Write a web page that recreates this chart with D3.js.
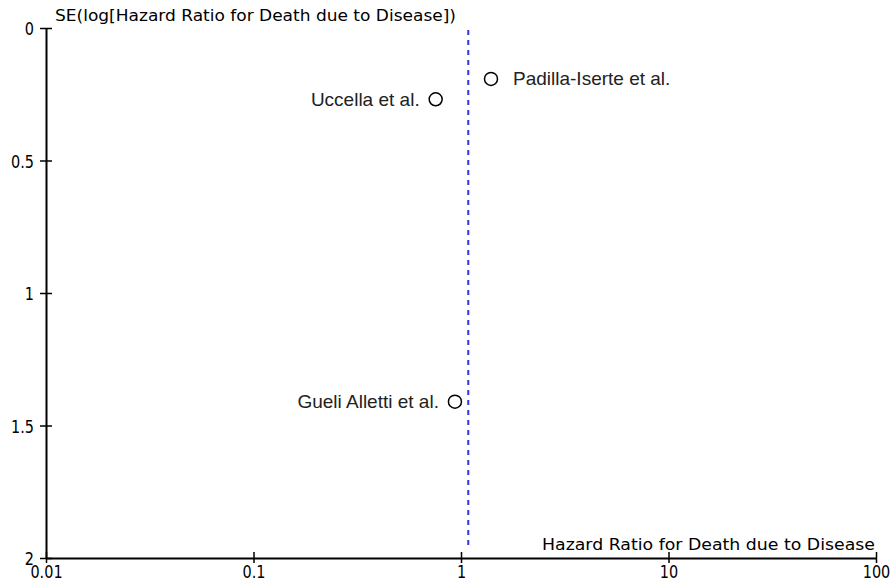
<!DOCTYPE html>
<html>
<head>
<meta charset="utf-8">
<script src="https://cdn.jsdelivr.net/npm/d3@7"></script>
<style>
  html, body { margin: 0; padding: 0; background: #fff; }
  svg { display: block; }
</style>
</head>
<body>
<svg id="chart" width="893" height="587"></svg>
<script>
// Funnel plot: hazard ratio for death due to disease vs. its standard error
const studies = ["Padilla-Iserte et al.", "Uccella et al.", "Gueli Alletti et al."];
const hazardRatios = [1.395, 0.755, 0.935];
const standardErrors = [0.192, 0.269, 1.41];
const labelSides = ["right", "left", "left"];
const pooledHR = 1.084;

const xTicks = [0.01, 0.1, 1, 10, 100];
const xTickLabels = ["0.01", "0.1", "1", "10", "100"];
const yTicks = [0, 0.5, 1, 1.5, 2];
const yTickLabels = ["0", "0.5", "1", "1.5", "2"];

const xTitle = "Hazard Ratio for Death due to Disease";
const yTitle = "SE(log[Hazard Ratio for Death due to Disease])";

const svg = d3.select("#chart");
const axisFont = "'DejaVu Sans', sans-serif";

const x = d3.scaleLog().domain([0.01, 100]).range([46, 876]);
const y = d3.scaleLinear().domain([0, 2]).range([28, 558]);

// pooled estimate line
svg.append("line")
  .attr("x1", x(pooledHR)).attr("x2", x(pooledHR))
  .attr("y1", y(0) + 2).attr("y2", y(2) - 8)
  .attr("stroke", "#3434d8")
  .attr("stroke-width", 2)
  .attr("stroke-dasharray", "5,5");

// x axis
const xAxis = svg.append("g").attr("transform", `translate(0,${y(2)})`)
  .call(d3.axisBottom(x).tickValues(xTicks).tickFormat((d, i) => xTickLabels[i]).tickSizeOuter(0));
xAxis.select(".domain").attr("stroke", "#000").attr("stroke-width", 2);
xAxis.selectAll(".tick line").attr("y1", -6).attr("y2", 5).attr("stroke", "#000").attr("stroke-width", 1.5);
xAxis.selectAll(".tick text").remove();
xAxis.selectAll(".tick").append("text")
  .attr("transform", "translate(0,20) scale(0.85,1)")
  .attr("text-anchor", "middle")
  .attr("font-family", axisFont).attr("font-size", 17)
  .attr("fill", "#000")
  .text((d, i) => xTickLabels[i]);

// y axis
const yAxis = svg.append("g").attr("transform", `translate(${x(0.01)},0)`)
  .call(d3.axisLeft(y).tickValues(yTicks).tickFormat((d, i) => yTickLabels[i]).tickSizeOuter(0));
yAxis.select(".domain").attr("stroke", "#000").attr("stroke-width", 2);
yAxis.selectAll(".tick line").attr("x1", -6).attr("x2", 6).attr("stroke", "#000").attr("stroke-width", 1.5);
yAxis.selectAll(".tick text").remove();
yAxis.selectAll(".tick").append("text")
  .attr("transform", "translate(-12,6.5) scale(0.85,1)")
  .attr("text-anchor", "end")
  .attr("font-family", axisFont).attr("font-size", 17)
  .attr("fill", "#000")
  .text((d, i) => yTickLabels[i]);

// axis titles
svg.append("text")
  .attr("x", 55).attr("y", 21)
  .attr("font-family", axisFont).attr("font-size", 15)
  .attr("textLength", 401).attr("lengthAdjust", "spacingAndGlyphs")
  .attr("fill", "#000")
  .text(yTitle);

svg.append("text")
  .attr("x", 542).attr("y", 550)
  .attr("font-family", axisFont).attr("font-size", 15.5)
  .attr("textLength", 333).attr("lengthAdjust", "spacingAndGlyphs")
  .attr("fill", "#000")
  .text(xTitle);

// study points
const pts = studies.map((s, i) => ({ name: s, hr: hazardRatios[i], se: standardErrors[i], side: labelSides[i] }));

svg.selectAll("circle.study").data(pts).join("circle")
  .attr("class", "study")
  .attr("cx", d => x(d.hr)).attr("cy", d => y(d.se))
  .attr("r", 6.5)
  .attr("fill", "#fff").attr("stroke", "#000").attr("stroke-width", 1.5);

svg.selectAll("text.study").data(pts).join("text")
  .attr("class", "study")
  .attr("x", d => d.side === "right" ? x(d.hr) + 22 : x(d.hr) - 16)
  .attr("y", d => y(d.se) + 6.5)
  .attr("text-anchor", d => d.side === "right" ? "start" : "end")
  .attr("font-family", "'Liberation Sans', Arial, sans-serif")
  .attr("font-size", 19)
  .attr("fill", "#222")
  .text(d => d.name);
</script>
</body>
</html>
